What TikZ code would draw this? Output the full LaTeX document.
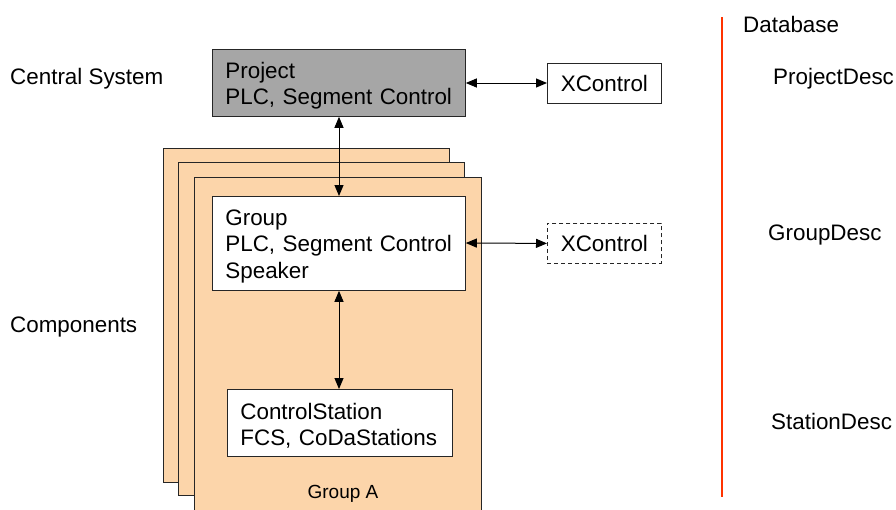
\documentclass[tikz,border=0pt]{standalone}
\usepackage{fontspec}
\setmainfont{Liberation Sans}
\usetikzlibrary{arrows.meta}
\definecolor{peach}{RGB}{252,213,170}
\definecolor{boxgray}{RGB}{166,166,166}
\definecolor{dbred}{RGB}{255,51,0}
\begin{document}
\begin{tikzpicture}[x=1pt,y=-1pt,
  every node/.style={font=\fontsize{22.4}{26.5}\selectfont},
  >={Triangle[length=11pt,width=9pt]},
  sheet/.style={draw=black!85,line width=0.8pt,fill=peach},
  box/.style={draw=black!85,line width=0.8pt,fill=white,anchor=north west,align=left,inner xsep=13pt,inner ysep=0pt,
    execute at end node={\endgraf\vspace{-6pt}}},
  xbox/.style={draw=black!85,line width=0.8pt,fill=white,anchor=north west,inner sep=0pt,minimum width=114pt,minimum height=40pt},
  lbl/.style={anchor=west,inner sep=0pt},
  conn/.style={<->,line width=1pt}]
\useasboundingbox (0,0) rectangle (896,509);
% stacked group sheets
\draw[sheet] (163,148) rectangle (449,482);
\draw[sheet] (178,162) rectangle (464,495);
\draw[sheet] (194,177) rectangle (481,515);
% boxes
\node[box,fill=boxgray,text width=227pt,minimum height=67pt] (proj) at (212,49) {Project\\PLC, Segment Control};
\node[box,text width=227pt,minimum height=94pt] (grp) at (212,196) {Group\\PLC, Segment Control\\Speaker};
\node[box,text width=199pt,minimum height=67pt] (cs) at (227,389) {ControlStation\\FCS, CoDaStations};
\node[xbox] (xc1) at (547,63) {XControl};
\node[xbox,dashed,dash pattern=on 4pt off 3pt] (xc2) at (547,223) {XControl};
\node[anchor=base,inner sep=0pt,font=\fontsize{19}{21}\selectfont] (ga) at (343,498) {Group A};
% connectors
\draw[conn] (proj.east |- 0,83) -- (xc1.west |- 0,83);
\draw[conn] (grp.east |- 0,243) -- (xc2.west);
\draw[conn] (proj.south -| 339,0) -- (grp.north -| 339,0);
\draw[conn] (grp.south -| 339,0) -- (cs.north -| 339,0);
% left labels
\node[lbl] (cen) at (10,79) {Central System};
\node[lbl] (comp) at (10,327) {Components};
% database
\coordinate (dbt) at (722,17);
\coordinate (dbb) at (722,497);
\draw[dbred,line width=2pt] (dbt) -- (dbb);
\node[lbl] (db) at (743,24) {Database};
\node[lbl] (pd) at (773,79) {ProjectDesc};
\node[lbl] (gd) at (768,235) {GroupDesc};
\node[lbl] (sd) at (771,421) {StationDesc};
\end{tikzpicture}
\end{document}
